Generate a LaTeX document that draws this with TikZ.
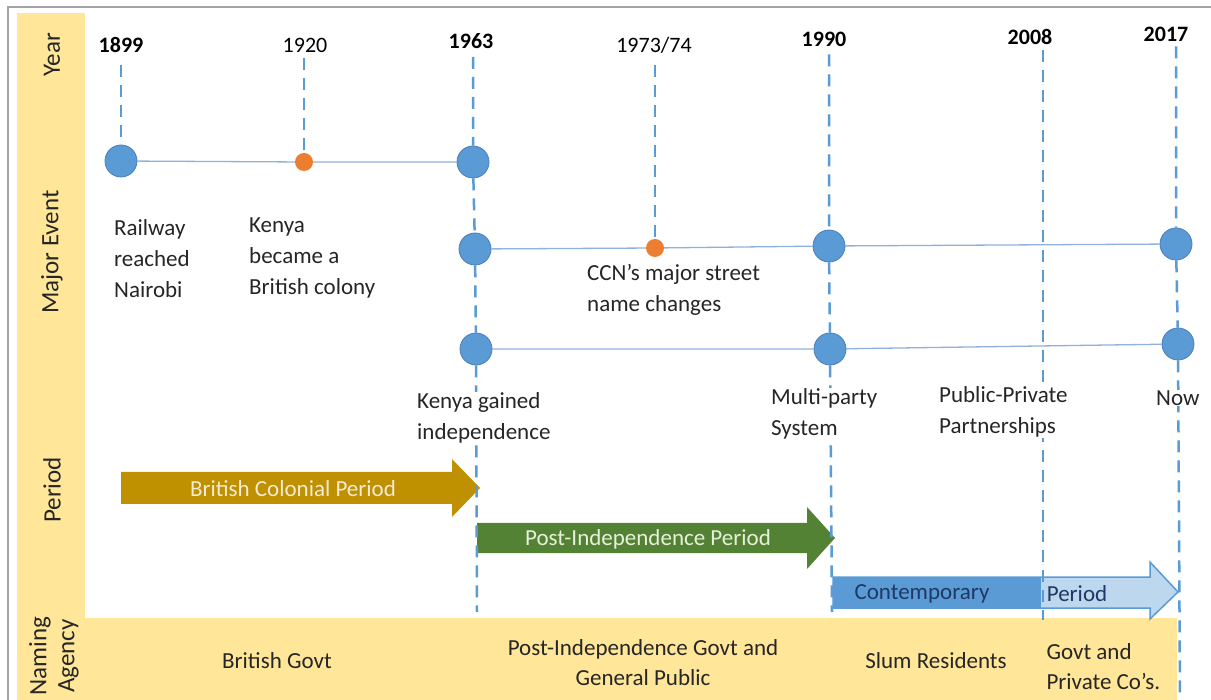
\documentclass[tikz,border=0pt]{standalone}
\usepackage{fontspec}
\setmainfont{Carlito}
\pgfdeclarelayer{bg}
\pgfdeclarelayer{lines}
\pgfsetlayers{bg,lines,main}
\definecolor{bandy}{HTML}{FFE699}
\definecolor{framegray}{HTML}{A5A5A5}
\definecolor{evblue}{HTML}{5B9BD5}
\definecolor{evedge}{HTML}{4A7EBB}
\definecolor{evorange}{HTML}{ED7D31}
\definecolor{hlinec}{HTML}{8FB2DB}
\definecolor{goldc}{HTML}{BF9000}
\definecolor{pgreen}{HTML}{548235}
\definecolor{lightbluec}{HTML}{BDD7EE}
\definecolor{navyc}{HTML}{1F3864}
\definecolor{ink}{HTML}{262626}
\definecolor{goldtext}{HTML}{F3EBD3}
\definecolor{greentext}{HTML}{E6F0DA}
\tikzset{
  bigdot/.style={circle, fill=evblue, draw=evedge, line width=0.8pt, minimum size=32pt, inner sep=0pt},
  smalldot/.style={circle, fill=evorange, draw=none, minimum size=18pt, inner sep=0pt},
  yearlbl/.style={font=\fontsize{22}{26}\selectfont, text=black, inner sep=2pt},
  yearbold/.style={font=\fontsize{22}{26}\selectfont\bfseries, text=black, inner sep=2pt},
  evlbl/.style={align=left, anchor=west, inner sep=1pt, fill=white, font=\fontsize{23}{31}\selectfont, text=ink},
  vdash/.style={draw=evblue, line width=2.5pt, dash pattern=on 12pt off 8pt},
  hconn/.style={draw=hlinec, line width=1.3pt},
  sidelbl/.style={rotate=90, font=\fontsize{25}{28}\selectfont, text=ink, align=center},
  bandlbl/.style={font=\fontsize{23}{30}\selectfont, text=ink, align=center},
  arrowlbl/.style={font=\fontsize{23}{28}\selectfont, inner sep=0pt}
}
\begin{document}
\begin{tikzpicture}[x=1pt, y=-1pt]
\useasboundingbox (0,0) rectangle (1211,700);

% background bands and frame
\begin{pgfonlayer}{bg}
\fill[white] (0,0) rectangle (1211,700);
\fill[bandy] (17,13) rectangle (85,700);
\fill[bandy] (85,618) rectangle (1177,700);
\draw[framegray, line width=2.5pt] (8,700) -- (8,7) -- (1211,7);
% period arrows
\fill[goldc] (121,472) -- (452,472) -- (452,459) -- (480,488) -- (452,517) -- (452,504) -- (121,504) -- cycle;
\fill[pgreen] (477,523) -- (807,523) -- (807,507) -- (835,538) -- (807,569) -- (807,553) -- (477,553) -- cycle;
\fill[evblue] (833,577) rectangle (1041,608);
\fill[lightbluec] (1041,577) -- (1150,577) -- (1150,562) -- (1178,592) -- (1150,619) -- (1150,608) -- (1041,608) -- cycle;
\draw[evblue, line width=1.5pt, line join=miter] (833,577) -- (1150,577) -- (1150,562) -- (1178,592) -- (1150,619) -- (1150,608) -- (833,608) -- cycle;
\end{pgfonlayer}

% sidebar labels
\node[sidelbl] (sYear) at (52,55) {Year};
\node[sidelbl] (sEvent) at (52,252) {Major Event};
\node[sidelbl] (sPeriod) at (52,490) {Period};
\node[sidelbl] (sAgency) at (54,656) {Naming\\Agency};

% year labels
\node[yearbold] (y1899) at (121,45) {1899};
\node[yearlbl]  (y1920) at (305,45) {1920};
\node[yearbold] (y1963) at (471,41) {1963};
\node[yearlbl]  (y1974) at (654,45) {1973/74};
\node[yearbold] (y1990) at (824,39) {1990};
\node[yearbold] (y2008) at (1030,37) {2008};
\node[yearbold] (y2017) at (1166,34) {2017};

% event dots
\node[bigdot] (c1899) at (121,161) {};
\node[smalldot] (o1920) at (304,162) {};
\node[bigdot] (c63a) at (473,162) {};
\node[bigdot] (c63b) at (475,249) {};
\node[smalldot] (o1974) at (655,248) {};
\node[bigdot] (c90a) at (829,246) {};
\node[bigdot] (c17a) at (1176,244) {};
\node[bigdot] (c63c) at (476,349) {};
\node[bigdot] (c90b) at (830,349) {};
\node[bigdot] (c17b) at (1178,344) {};

\coordinate (e1963) at (477,612);
\coordinate (e1990) at (832,612);
\coordinate (e2008) at (1043,620);
\coordinate (e2017) at (1180,700);

% event labels
\node[evlbl] (lRail) at (113,259) {Railway\\reached\\Nairobi};
\node[evlbl] (lColony) at (248,258) {Kenya\\became a\\British colony};
\node[evlbl] (lCCN) at (586,290) {CCN’s major street\\name changes};
\node[evlbl] (lIndep) at (416,418) {Kenya gained\\independence};
\node[evlbl] (lMulti) at (770,414) {Multi-party\\System};
\node[evlbl] (lPPP) at (938,412) {Public-Private\\Partnerships};
\node[evlbl] (lNow) at (1155,398) {Now};

% period arrow labels
\node[arrowlbl, text=goldtext] (pBrit) at (293,489) {British Colonial Period};
\node[arrowlbl, text=greentext] (pPost) at (648,539) {Post-Independence Period};
\node[arrowlbl, text=navyc] (pCont) at (922,594) {Contemporary};
\node[arrowlbl, text=navyc] (pContB) at (1077,594) {Period};

% naming agency labels
\node[bandlbl] (aBrit) at (277,661) {British Govt};
\node[bandlbl] (aPost) at (643,663) {Post-Independence Govt and\\General Public};
\node[bandlbl] (aSlum) at (936,661) {Slum Residents};
\node[bandlbl, align=left, anchor=west] (aGovt) at (1043,667) {Govt and\\Private Co’s.};

% connectors
\begin{pgfonlayer}{lines}
\draw[hconn] (c1899) -- (o1920) -- (c63a);
\draw[hconn] (c63b) -- (o1974) -- (c90a) -- (c17a);
\draw[hconn] (c63c) -- (c90b) -- (c17b);
\draw[vdash] ([yshift=-10pt]c1899 |- y1899.south) -- (c1899);
\draw[vdash] ([yshift=-4pt]o1920 |- y1920.south) -- (o1920);
\draw[vdash] ([yshift=-6pt]c63a |- y1963.south) -- (c63a) -- (c63b) -- (c63c) -- (e1963);
\draw[vdash] ([yshift=-10pt]o1974 |- y1974.south) -- (o1974);
\draw[vdash] ([yshift=-6pt]c90a |- y1990.south) -- (c90a) -- (c90b) -- (e1990);
\draw[vdash] ([yshift=-3pt]e2008 |- y2008.south) -- (e2008);
\draw[vdash] ([yshift=-3pt]c17a |- y2017.south) -- (c17a) -- (c17b) -- (e2017);
\end{pgfonlayer}
\end{tikzpicture}
\end{document}
